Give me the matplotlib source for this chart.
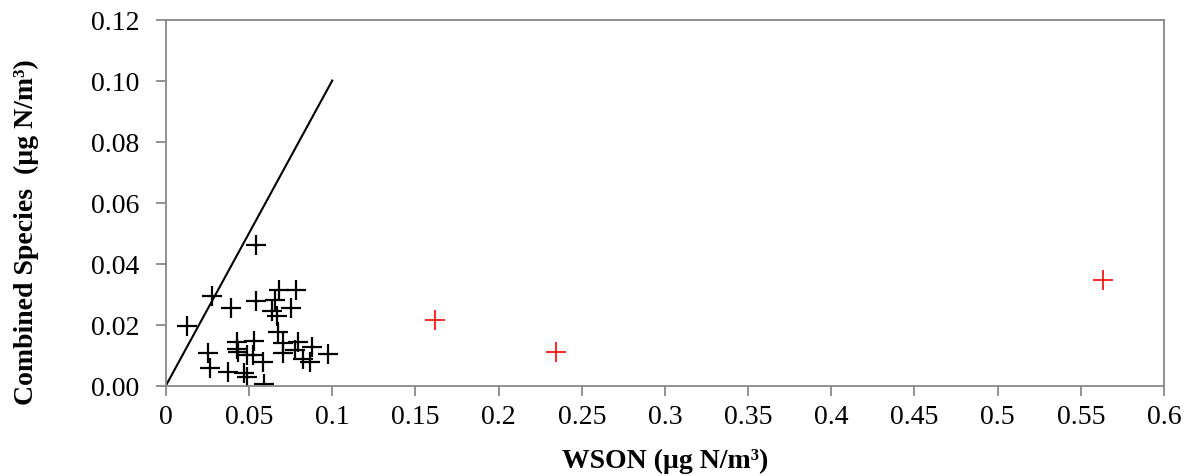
import numpy as np
import matplotlib.pyplot as plt
from matplotlib.ticker import FuncFormatter

plt.rcParams['font.family'] = ['Liberation Serif', 'DejaVu Serif']

# black points (WSON, combined species)
wson = [0.0539, 0.0275, 0.0128, 0.0389, 0.0541, 0.0679, 0.078, 0.0655, 0.075, 0.0635,
        0.0669, 0.0671, 0.0425, 0.0531, 0.0254, 0.0435, 0.0489, 0.0525, 0.0585, 0.0705,
        0.0776, 0.0796, 0.0876, 0.0826, 0.0866, 0.0976, 0.0265, 0.0375, 0.0469, 0.0489,
        0.0589, 0.0425, 0.0705]
combined = [0.0461, 0.0292, 0.0196, 0.0254, 0.0278, 0.0313, 0.0313, 0.028, 0.0253, 0.0243,
            0.0229, 0.0174, 0.0142, 0.0147, 0.0107, 0.0109, 0.0100, 0.0100, 0.0076, 0.0107,
            0.0117, 0.0142, 0.0125, 0.0087, 0.0076, 0.0103, 0.0056, 0.0043, 0.0041, 0.0027,
            0.0005, 0.0120, 0.0140]

# red outliers
wson_red = [0.1617, 0.2345, 0.5633]
combined_red = [0.0215, 0.0110, 0.0346]

# 1:1 line
line_x = [0, 0.1]
line_y = [0, 0.1]

fig = plt.figure(figsize=(11.87, 4.77), dpi=100)
ax = fig.add_axes([0.1398, 0.1897, 0.9806 - 0.1398, 0.957 - 0.1897])

ax.plot(line_x, line_y, color='black', lw=1.5)
ax.plot(wson, combined, linestyle='none', marker='+', color='black', markersize=15, mew=1.6)
ax.plot(wson_red, combined_red, linestyle='none', marker='+', color='red', markersize=15, mew=1.2)

ax.set_xlim(0, 0.6)
ax.set_ylim(0, 0.12)
ax.set_xticks(np.arange(0, 0.601, 0.05))
ax.set_yticks(np.arange(0, 0.121, 0.02))
ax.xaxis.set_major_formatter(FuncFormatter(lambda v, p: '0' if abs(v) < 1e-9 else ('%.2f' % v).rstrip('0').rstrip('.')))
ax.yaxis.set_major_formatter(FuncFormatter(lambda v, p: '%.2f' % v))

for s in ax.spines.values():
    s.set_color('#888888')
    s.set_linewidth(1.3)
ax.tick_params(direction='out', length=7, width=1.3, color='#888888', labelsize=20)
ax.tick_params(axis='y', pad=12)
ax.tick_params(axis='x', pad=6)

ax.set_xlabel('WSON (µg N/m³)', fontsize=20, fontweight='bold', labelpad=14)
ax.set_ylabel('Combined Species  (µg N/m³)', fontsize=20, fontweight='bold')
ax.yaxis.set_label_coords(-0.127, 0.422)

fig.savefig('out.png', dpi=100)
